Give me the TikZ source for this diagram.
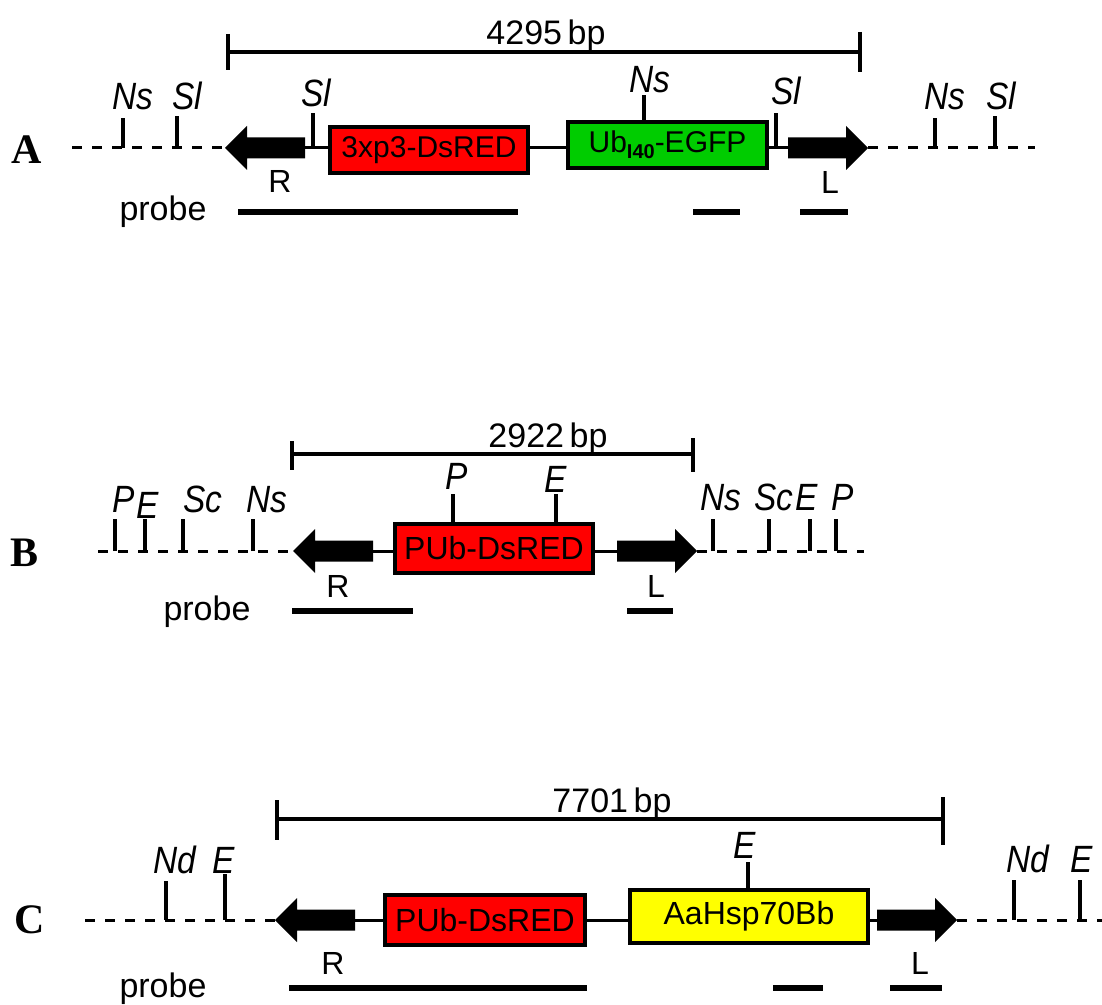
\documentclass[tikz,border=0pt]{standalone}
\usepackage{fontspec}
\setmainfont{Liberation Sans}
\newfontfamily\panelfont{Liberation Serif}
\newfontfamily\sitefont[FakeStretch=0.88]{Liberation Sans}
\usetikzlibrary{positioning}
\definecolor{geneRed}{RGB}{255,0,0}
\definecolor{geneGreen}{RGB}{0,204,0}
\definecolor{geneYellow}{RGB}{255,255,0}

\begin{document}
\begin{tikzpicture}[x=0.5pt, y=-0.5pt,
  panel/.style={font=\panelfont\bfseries\fontsize{21pt}{23pt}\selectfont, inner sep=0pt},
  gene/.style={draw, line width=2pt, inner sep=0pt, font=\fontsize{16pt}{18pt}\selectfont},
  site/.style={font=\sitefont\itshape\fontsize{19pt}{22pt}\selectfont, inner sep=0pt, anchor=base},
  arm/.style={font=\fontsize{16pt}{18pt}\selectfont, inner sep=0pt, anchor=base},
  txt/.style={font=\fontsize{17pt}{20pt}\selectfont, inner sep=0pt, anchor=base},
  strand/.style={line width=1.5pt},
  flank/.style={line width=1.5pt, dash pattern=on 5pt off 5pt},
  cut/.style={line width=1.75pt},
  span/.style={line width=2pt},
  probe/.style={line width=3pt},
  fatarrow/.pic={\fill (0,0) -- (-22,-22) -- (-22,-10.5) -- (-80,-10.5) -- (-80,10.5) -- (-22,10.5) -- (-22,22) -- cycle;}
]
  \useasboundingbox (0,0) rectangle (1102,1005);

  % ---------- A ----------
  \node[panel] (labA) at (27,150) {A};
  \coordinate (tipRA) at (225,148);
  \coordinate (tailRA) at (305,148);
  \coordinate (tailLA) at (788,148);
  \coordinate (tipLA) at (868,148);
  \node[gene, fill=geneRed, minimum width=99pt, minimum height=23pt, font=\fontsize{15pt}{17pt}\selectfont] (redA) at (429,150) {3xp3-DsRED};
  \node[gene, fill=geneGreen, minimum width=99.5pt, minimum height=23pt, font=\fontsize{15pt}{17pt}\selectfont] (greenA) at (667.5,145) {Ub\raisebox{-0.35ex}{\fontsize{10pt}{10pt}\selectfont\bfseries I40}-EGFP};
  \draw[flank] (72,148) -- (tipRA);
  \draw[flank] (tipLA) -- (1035,148);
  \draw[strand] (tailRA) -- (tailRA -| redA.west);
  \draw[strand] (tailRA -| redA.east) -- (tailRA -| greenA.west);
  \draw[strand] (tailRA -| greenA.east) -- (tailLA);
  \pic[xscale=-1] at (tipRA) {fatarrow};
  \pic at (tipLA) {fatarrow};
  \foreach \x/\t/\lab/\lx/\ly [count=\i] in {123/118/Ns/133/110, 177/116/Sl/187/110, 313/113/Sl/316/107, 776/113/Sl/786/105, 935/118/Ns/945/110, 995/116/Sl/1001/110}
    {\draw[cut] (\x,148) -- (\x,\t);
     \node[site] (siteA\i) at (\lx,\ly) {\lab};}
  \draw[cut] (644,122.5) -- (644,95);
  \node[site] (siteNsA) at (650,93) {Ns};
  \draw[span] (228,52) -- (860,52);
  \draw[span] (228,34) -- (228,70);
  \draw[span] (860,32) -- (860,72);
  \node[txt] (bpA) at (546,45) {4295\,bp};
  \node[arm] (armRA) at (280,193) {R};
  \node[arm] (armLA) at (830,194) {L};
  \node[txt] (probeA) at (163,221) {probe};
  \draw[probe] (238,212) -- (518,212);
  \draw[probe] (693,212) -- (740,212);
  \draw[probe] (800,212) -- (848,212);

  % ---------- B ----------
  \node[panel] (labB) at (25,553) {B};
  \coordinate (tipRB) at (293,551);
  \coordinate (tailRB) at (373,551);
  \coordinate (tailLB) at (617,551);
  \coordinate (tipLB) at (697,551);
  \node[gene, fill=geneRed, minimum width=99pt, minimum height=24.5pt] (redB) at (494,548.5) {PUb-DsRED};
  \draw[flank] (98,551) -- (tipRB);
  \draw[flank] (tipLB) -- (864,551);
  \draw[strand] (tailRB) -- (tailRB -| redB.west);
  \draw[strand] (tailRB -| redB.east) -- (tailLB);
  \pic[xscale=-1] at (tipRB) {fatarrow};
  \pic at (tipLB) {fatarrow};
  \foreach \x/\lab/\lx/\ly [count=\i] in {115/P/124/512, 145/E/148/518, 183/Sc/203/512, 253/Ns/267/512, 713/Ns/721/510, 769/Sc/774/510, 810/E/807/510, 836/P/843/510}
    {\draw[cut] (\x,551) -- (\x,519);
     \node[site] (siteB\i) at (\lx,\ly) {\lab};}
  \draw[cut] (453,524) -- (453,494);
  \node[site] (sitePB) at (457,489) {P};
  \draw[cut] (556,524) -- (556,494);
  \node[site] (siteEB) at (556,492) {E};
  \draw[span] (292,454) -- (693,454);
  \draw[span] (292,441) -- (292,470);
  \draw[span] (693,438) -- (693,472);
  \node[txt] (bpB) at (548,447) {2922\,bp};
  \node[arm] (armRB) at (338,597) {R};
  \node[arm] (armLB) at (656,597) {L};
  \node[txt] (probeB) at (207,620) {probe};
  \draw[probe] (292,611) -- (413,611);
  \draw[probe] (627,611) -- (673,611);

  % ---------- C ----------
  \node[panel] (labC) at (30,920) {C};
  \coordinate (tipRC) at (275,920);
  \coordinate (tailRC) at (355,920);
  \coordinate (tailLC) at (877,920);
  \coordinate (tipLC) at (957,920);
  \node[gene, fill=geneRed, minimum width=100pt, minimum height=25pt] (redC) at (485,920) {PUb-DsRED};
  \node[gene, fill=geneYellow, minimum width=119pt, minimum height=26.5pt] (yellowC) at (749,916.5) {AaHsp70Bb};
  \draw[flank] (85,920) -- (tipRC);
  \draw[flank] (tipLC) -- (1102,920);
  \draw[strand] (tailRC) -- (tailRC -| redC.west);
  \draw[strand] (tailRC -| redC.east) -- (tailRC -| yellowC.west);
  \draw[strand] (tailRC -| yellowC.east) -- (tailLC);
  \pic[xscale=-1] at (tipRC) {fatarrow};
  \pic at (tipLC) {fatarrow};
  \foreach \x/\t/\lab/\lx/\ly [count=\i] in {166/881/Nd/175/873, 225/874/E/224/873, 1014/880/Nd/1028/872, 1080/880/E/1082/872}
    {\draw[cut] (\x,920) -- (\x,\t);
     \node[site] (siteC\i) at (\lx,\ly) {\lab};}
  \draw[cut] (748,890) -- (748,862);
  \node[site] (siteEC) at (745,858) {E};
  \draw[span] (277,819) -- (943,819);
  \draw[span] (277,800) -- (277,840);
  \draw[span] (943,797) -- (943,845);
  \node[txt] (bpC) at (612,812) {7701\,bp};
  \node[arm] (armRC) at (333,974) {R};
  \node[arm] (armLC) at (920,974) {L};
  \node[txt] (probeC) at (163,997) {probe};
  \draw[probe] (289,988) -- (587,988);
  \draw[probe] (773,988) -- (823,988);
  \draw[probe] (890,988) -- (942,988);
\end{tikzpicture}
\end{document}
